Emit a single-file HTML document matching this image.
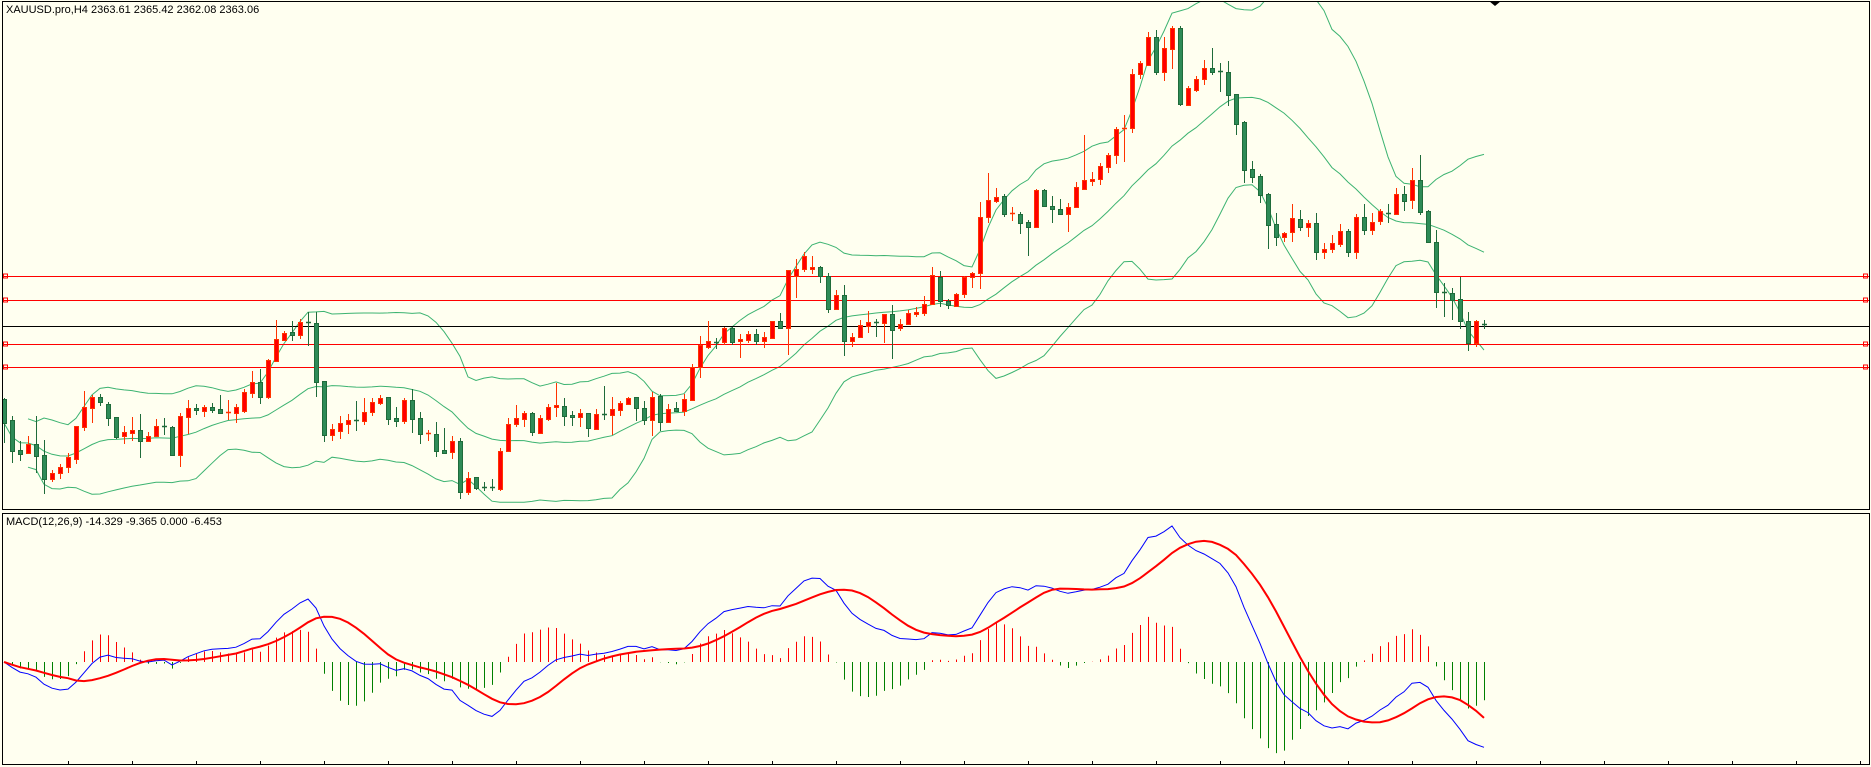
<!DOCTYPE html>
<html><head><meta charset="utf-8"><style>
html,body{margin:0;padding:0;background:#fffff0;}
svg{display:block;font-family:"Liberation Sans",Tahoma,sans-serif;}
</style></head><body>
<svg id="chart" width="1871" height="767" viewBox="0 0 1871 767" xmlns="http://www.w3.org/2000/svg">
<rect x="0" y="0" width="1871" height="767" fill="#fffff0"/>
<g id="mainClip"><clipPath id="cpMain"><rect x="3" y="2" width="1866" height="507"/></clipPath>
<clipPath id="cpMacd"><rect x="3" y="514" width="1866" height="250"/></clipPath></g>
<g id="bands" clip-path="url(#cpMain)"></g>
<g id="hlines"></g>
<g id="candles" clip-path="url(#cpMain)"></g>
<g id="macd" clip-path="url(#cpMacd)"></g>
<rect x="2.5" y="1.5" width="1867" height="508" fill="none" stroke="#000" stroke-width="1"/>
<rect x="2.5" y="513.5" width="1867" height="251" fill="none" stroke="#000" stroke-width="1"/>
<polygon points="1489,1 1501,1 1495,6" fill="#000"/>
<text x="6" y="13" font-size="11" fill="#000">XAUUSD.pro,H4  2363.61 2365.42 2362.08 2363.06</text>
<text x="6" y="525" font-size="11" fill="#000">MACD(12,26,9) -14.329 -9.365 0.000 -6.453</text>
<g id="ticks"></g>
</svg>
<script>
const O=[2290,2269,2239,2236,2245,2234,2210,2216,2222,2230,2262,2281,2292,2285,2272,2253,2256,2259,2248,2253,2263,2262,2234,2272,2281,2278,2282,2280,2276,2276,2278,2296,2307,2292,2328,2349,2357,2354,2367,2366,2308,2254,2258,2265,2269,2268,2277,2286,2292,2271,2268,2289,2271,2255,2255,2239,2237,2248,2197,2212,2202,2202,2200,2238,2265,2270,2276,2256,2270,2282,2283,2274,2272,2276,2260,2275,2274,2279,2285,2292,2281,2269,2293,2267,2281,2278,2289,2322,2342,2347,2347,2361,2348,2349,2355,2348,2351,2368,2361,2413,2420,2420,2422,2413,2380,2394,2348,2352,2363,2367,2366,2375,2361,2365,2375,2376,2385,2412,2388,2383,2395,2412,2416,2472,2488,2493,2475,2475,2467,2462,2499,2483,2480,2475,2482,2500,2508,2510,2522,2534,2560,2561,2615,2624,2652,2617,2640,2661,2584,2599,2610,2621,2618,2617,2595,2567,2520,2513,2495,2465,2452,2457,2470,2462,2466,2437,2440,2445,2458,2437,2472,2459,2468,2476,2475,2495,2489,2509,2478,2447,2397,2396,2390,2368,2346,2365];
const H=[2291,2273,2248,2253,2273,2249,2219,2225,2236,2263,2298,2294,2295,2287,2272,2263,2272,2275,2257,2270,2271,2263,2276,2289,2285,2284,2286,2294,2289,2285,2300,2318,2320,2330,2369,2358,2368,2370,2377,2377,2308,2265,2273,2275,2288,2291,2291,2294,2292,2282,2291,2300,2277,2259,2267,2261,2253,2251,2217,2212,2207,2210,2241,2271,2284,2278,2277,2274,2285,2306,2291,2278,2280,2276,2280,2303,2292,2288,2292,2292,2288,2297,2295,2285,2287,2295,2325,2353,2368,2351,2362,2362,2355,2358,2360,2357,2368,2376,2419,2430,2437,2433,2423,2416,2399,2404,2356,2369,2378,2370,2375,2384,2370,2379,2382,2393,2422,2418,2390,2396,2413,2417,2487,2516,2501,2495,2482,2477,2469,2500,2500,2493,2490,2486,2507,2554,2517,2526,2536,2562,2574,2620,2628,2657,2659,2652,2663,2663,2603,2613,2629,2641,2626,2628,2595,2568,2528,2515,2496,2476,2457,2485,2479,2469,2476,2446,2454,2465,2460,2475,2485,2476,2480,2485,2501,2503,2521,2534,2479,2459,2406,2401,2412,2377,2369,2369];
const L=[2246,2226,2228,2235,2216,2195,2207,2210,2216,2225,2258,2266,2283,2263,2250,2245,2248,2231,2247,2253,2254,2233,2222,2255,2274,2272,2276,2275,2269,2266,2276,2291,2285,2290,2328,2348,2348,2350,2343,2292,2247,2248,2250,2255,2258,2264,2273,2284,2264,2262,2265,2256,2245,2248,2232,2236,2230,2190,2194,2199,2198,2198,2198,2237,2262,2262,2253,2255,2268,2272,2263,2263,2262,2252,2259,2269,2254,2273,2284,2268,2264,2253,2258,2267,2277,2273,2288,2311,2340,2340,2344,2344,2331,2346,2344,2341,2350,2360,2334,2391,2417,2415,2406,2376,2379,2333,2342,2352,2356,2352,2346,2330,2358,2365,2372,2373,2385,2382,2380,2383,2391,2401,2400,2466,2486,2472,2468,2455,2433,2462,2482,2466,2475,2457,2482,2500,2503,2504,2516,2525,2527,2556,2610,2624,2614,2608,2620,2583,2583,2597,2604,2614,2597,2583,2554,2506,2506,2486,2440,2443,2447,2447,2458,2452,2429,2430,2436,2442,2432,2430,2454,2454,2464,2466,2474,2478,2480,2474,2446,2381,2372,2369,2360,2338,2342,2360];
const C=[2266,2238,2235,2245,2233,2210,2216,2222,2232,2263,2282,2292,2287,2271,2252,2257,2259,2248,2253,2263,2262,2234,2273,2281,2279,2282,2279,2276,2277,2282,2297,2307,2292,2329,2350,2356,2354,2367,2366,2307,2254,2260,2266,2269,2268,2277,2287,2291,2270,2268,2289,2270,2255,2256,2238,2236,2248,2197,2211,2201,2201,2201,2238,2265,2271,2276,2257,2271,2282,2284,2273,2272,2276,2261,2275,2274,2280,2286,2291,2281,2269,2292,2267,2280,2278,2290,2322,2344,2348,2346,2361,2347,2350,2355,2348,2352,2368,2361,2419,2420,2433,2422,2413,2380,2394,2348,2352,2364,2367,2366,2375,2359,2365,2376,2377,2385,2414,2388,2384,2395,2412,2416,2472,2489,2492,2475,2476,2466,2462,2499,2483,2480,2475,2482,2502,2509,2510,2523,2534,2560,2561,2615,2626,2652,2617,2641,2661,2585,2601,2610,2621,2617,2617,2594,2565,2519,2512,2494,2464,2452,2456,2471,2462,2466,2437,2440,2446,2458,2437,2472,2459,2467,2478,2475,2495,2488,2509,2477,2447,2397,2396,2389,2368,2346,2368,2364];
const levels=[2413,2389,2345,2322];
const currentPrice=2363;
const NS='http://www.w3.org/2000/svg';
function mk(tag,attrs,parent){const e=document.createElementNS(NS,tag);for(const k in attrs)e.setAttribute(k,attrs[k]);parent.appendChild(e);return e;}
const xAt=i=>4+8*i;
const yP=p=>2689-p;
const hg=document.getElementById('hlines');
levels.forEach(p=>{const y=Math.round(yP(p))+0.5;
 const l=mk('line',{x1:3,x2:1869,y1:y,y2:y,stroke:'#ff0000','stroke-width':1},hg);
 
 
 const a=mk('rect',{x:3.5,y:y-2.5,width:4,height:4,fill:'none',stroke:'#ff0000'},hg);
 
 
 const b=mk('rect',{x:1863.5,y:y-2.5,width:4,height:4,fill:'none',stroke:'#ff0000'},hg);
 
 
});
{const y=Math.round(yP(currentPrice))+0.5;
 const l=mk('line',{x1:3,x2:1869,y1:y,y2:y,stroke:'#000','stroke-width':1},hg);
 
 }
const bg=document.getElementById('bands');
let up=[],mid=[],lo=[];
for(let i=0;i<C.length;i++){const s=Math.max(0,i-19);const w=C.slice(s,i+1);const m=w.reduce((a,b)=>a+b,0)/w.length;
 const sd=Math.sqrt(w.reduce((a,b)=>a+(b-m)*(b-m),0)/w.length);mid.push(m);up.push(m+2*sd);lo.push(m-2*sd);}
[['bb-upper',up],['bb-middle',mid],['bb-lower',lo]].forEach(([n,arr])=>{
 const st=n==='bb-upper'||n==='bb-lower'?3:0;
 let d='';for(let i=st;i<arr.length;i++)d+=(i===st?'M':'L')+xAt(i)+','+yP(arr[i]).toFixed(1);
 const p=mk('path',{d:d,fill:'none',stroke:'#3cb371','stroke-width':1},bg);
 
 });
const cg=document.getElementById('candles');
for(let i=0;i<C.length;i++){const x=xAt(i);const bull=C[i]>=O[i];
 const edge=bull?'#ff3300':'#1f6b3a';const fill=bull?'#ff0000':'#2e8b57';
 const g=mk('g',{},cg);
 
 
 mk('line',{x1:x+0.5,x2:x+0.5,y1:yP(H[i]),y2:yP(L[i]),stroke:edge,'stroke-width':1},g);
 const t=yP(Math.max(O[i],C[i])),b=yP(Math.min(O[i],C[i]));
 if(b-t<1.5){mk('line',{x1:x-2,x2:x+3,y1:t+0.5,y2:t+0.5,stroke:edge,'stroke-width':1.5},g);}
 else mk('rect',{x:x-1.5,y:t+0.5,width:4,height:b-t,fill:fill,stroke:edge,'stroke-width':1},g);}
function ema(a,n){const k=2/(n+1);const r=[a[0]];for(let i=1;i<a.length;i++)r.push(a[i]*k+r[i-1]*(1-k));return r;}
const e12=ema(C,12),e26=ema(C,26);
const mac=C.map((c,i)=>e12[i]-e26[i]);
const sig=mac.map((v,i)=>{const s=Math.max(0,i-8);const w=mac.slice(s,i+1);return w.reduce((a,b)=>a+b,0)/w.length;});
const hist=mac.map((v,i)=>v-sig[i]);
const mg=document.getElementById('macd');
const base=662;const kk=136/Math.max(...mac);const hk=kk*1.3;
for(let i=0;i<hist.length;i++){const h=hist[i]*hk;
 const l=mk('line',{x1:xAt(i)+0.5,x2:xAt(i)+0.5,y1:base,y2:base-h,stroke:h>=0?'#ff0000':'#008000','stroke-width':1},mg);
 
 }
let d1='',d2='';
for(let i=0;i<mac.length;i++){d1+=(i?'L':'M')+xAt(i)+','+(base-mac[i]*kk).toFixed(1);d2+=(i?'L':'M')+xAt(i)+','+(base-sig[i]*kk).toFixed(1);}
const pm=mk('path',{d:d1,fill:'none',stroke:'#0000ff','stroke-width':1},mg);


const ps=mk('path',{d:d2,fill:'none',stroke:'#ff0000','stroke-width':2},mg);


const tg=document.getElementById('ticks');
for(let x=68;x<1870;x+=64){const t=mk('line',{x1:x+0.5,x2:x+0.5,y1:761,y2:765,stroke:'#000'},tg);
 
 }
</script>
</body></html>
